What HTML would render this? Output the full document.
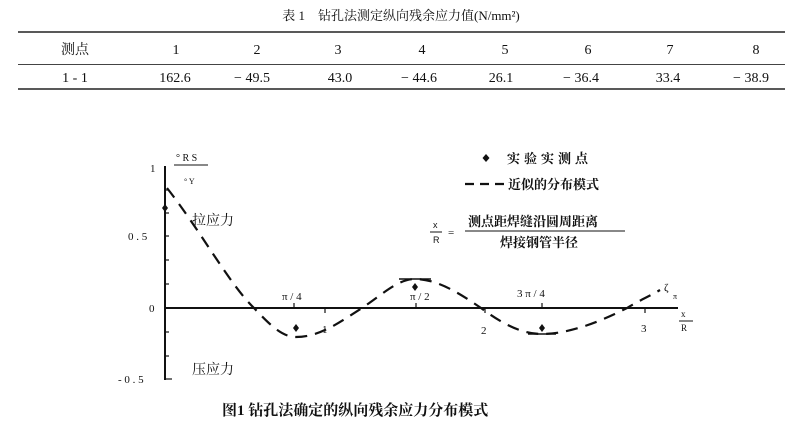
<!DOCTYPE html>
<html><head><meta charset="utf-8"><style>
html,body{margin:0;padding:0;background:#fff;width:802px;height:430px;overflow:hidden}
svg{display:block}
text{font-family:"Liberation Serif","Noto Serif CJK SC",serif;fill:#111}
.s{font-family:"Liberation Sans","Noto Sans CJK SC",sans-serif}
</style></head><body>
<svg width="802" height="430" viewBox="0 0 802 430" xmlns="http://www.w3.org/2000/svg">
<text x="401" y="20" font-size="13" text-anchor="middle">表 1　钻孔法测定纵向残余应力值(N/mm²)</text>
<line x1="18" y1="32" x2="785" y2="32" stroke="#222" stroke-width="1.6"/>
<line x1="18" y1="64.5" x2="785" y2="64.5" stroke="#444" stroke-width="0.9"/>
<line x1="18" y1="89" x2="785" y2="89" stroke="#222" stroke-width="1.6"/>
<g font-size="14" text-anchor="middle">
<text x="75" y="54">测点</text><text x="176" y="54">1</text><text x="257" y="54">2</text><text x="338" y="54">3</text><text x="422" y="54">4</text><text x="505" y="54">5</text><text x="588" y="54">6</text><text x="670" y="54">7</text><text x="756" y="54">8</text>
<text x="75" y="82">1 - 1</text><text x="175" y="82">162.6</text><text x="252" y="82">− 49.5</text><text x="340" y="82">43.0</text><text x="419" y="82">− 44.6</text><text x="501" y="82">26.1</text><text x="581" y="82">− 36.4</text><text x="668" y="82">33.4</text><text x="751" y="82">− 38.9</text>
</g>
<!-- axes -->
<line x1="165" y1="166" x2="165" y2="380" stroke="#111" stroke-width="2"/>
<line x1="164" y1="308" x2="678" y2="308" stroke="#111" stroke-width="2"/>
<g stroke="#111" stroke-width="1.2">
<line x1="165" y1="190" x2="169" y2="190"/><line x1="165" y1="213" x2="169" y2="213"/><line x1="165" y1="236" x2="169" y2="236"/><line x1="165" y1="260" x2="169" y2="260"/><line x1="165" y1="284" x2="169" y2="284"/><line x1="165" y1="332" x2="169" y2="332"/><line x1="165" y1="356" x2="169" y2="356"/><line x1="165" y1="379" x2="172" y2="379"/>
<line x1="294" y1="303" x2="294" y2="308"/><line x1="325" y1="308" x2="325" y2="313"/><line x1="416" y1="303" x2="416" y2="308"/><line x1="485" y1="308" x2="485" y2="313"/><line x1="542" y1="303" x2="542" y2="308"/><line x1="645" y1="308" x2="645" y2="313"/>
</g>
<g font-size="11" class="s">
<text x="150" y="172">1</text><text x="128" y="240">0 . 5</text><text x="149" y="312">0</text><text x="118" y="383">- 0 . 5</text>
<text x="282" y="300">π / 4</text><text x="322" y="333">1</text><text x="410" y="300">π / 2</text><text x="481" y="334">2</text><text x="517" y="297">3 π / 4</text><text x="641" y="332">3</text>
<text x="664" y="291">ζ</text><text x="673" y="299" font-size="8">π</text>
<text x="681" y="317" font-size="9">x</text><text x="681" y="331" font-size="9">R</text>
<text x="176" y="161" font-size="10">° R S</text><text x="184" y="184" font-size="8">° Y</text>
</g>
<line x1="679" y1="321" x2="693" y2="321" stroke="#111" stroke-width="1"/>
<line x1="174" y1="165" x2="208" y2="165" stroke="#111" stroke-width="1"/>
<text x="192" y="225" font-size="14">拉应力</text>
<text x="192" y="374" font-size="14">压应力</text>
<!-- curve -->
<path d="M167,188 C200,230 230,285 254,308 C270,325 282,337 296,337 C320,337 340,322 362,308 C383,294 398,279 415,279 C438,279 462,295 481,308 C500,322 520,334 542,334 C568,334 600,322 627,308 C640,300 650,296 660,290" fill="none" stroke="#111" stroke-width="2.2" stroke-dasharray="12,8"/>
<line x1="399" y1="279" x2="431" y2="279" stroke="#111" stroke-width="1.6"/>
<line x1="528" y1="334" x2="556" y2="334" stroke="#111" stroke-width="1.6"/>
<g fill="#111">
<path d="M165,204 l3,4 l-3,4 l-3,-4z"/><path d="M296,324 l3,4 l-3,4 l-3,-4z"/><path d="M415,283 l3,4 l-3,4 l-3,-4z"/><path d="M542,324 l3,4 l-3,4 l-3,-4z"/>
<path d="M486,154 l3.5,4 l-3.5,4 l-3.5,-4z"/>
</g>
<text x="507" y="163" font-size="13" font-weight="bold" letter-spacing="4">实验实测点</text>
<line x1="465" y1="184" x2="505" y2="184" stroke="#111" stroke-width="2.2" stroke-dasharray="9,6"/>
<text x="508" y="189" font-size="13" font-weight="bold">近似的分布模式</text>
<text x="433" y="228" font-size="9" class="s">x</text><text x="433" y="243" font-size="9" class="s">R</text>
<line x1="430" y1="232" x2="442" y2="232" stroke="#111" stroke-width="1"/>
<text x="448" y="236" font-size="11">=</text>
<text x="468" y="226" font-size="13" font-weight="bold">测点距焊缝沿圆周距离</text>
<line x1="465" y1="231" x2="625" y2="231" stroke="#111" stroke-width="1"/>
<text x="500" y="247" font-size="13" font-weight="bold">焊接钢管半径</text>
<text x="222" y="415" font-size="15" font-weight="bold">图1 钻孔法确定的纵向残余应力分布模式</text>
</svg>
</body></html>
